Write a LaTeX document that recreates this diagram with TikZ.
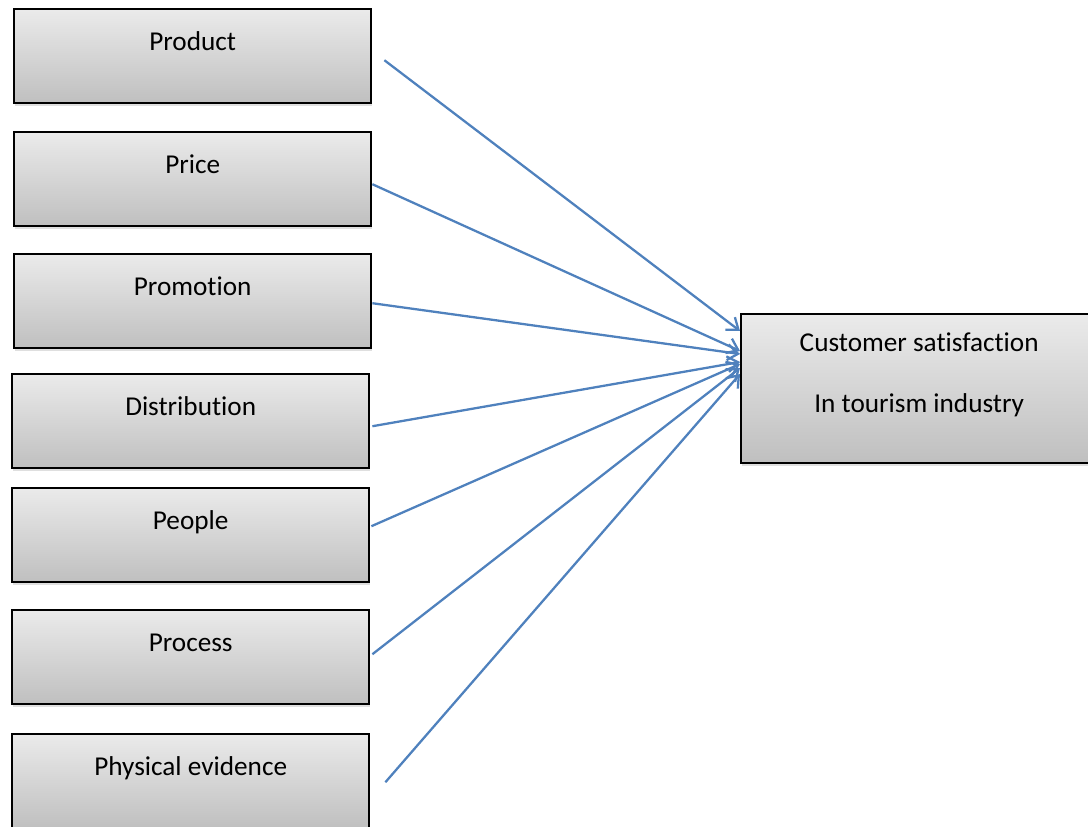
\documentclass[tikz,border=0pt]{standalone}
\usepackage{fontspec}
\setmainfont{Carlito}[Ligatures=NoCommon]
\usetikzlibrary{arrows.meta,shadows}

\definecolor{linkblue}{RGB}{79,129,189}

\begin{document}
\begin{tikzpicture}[x=0.02cm, y=-0.02cm,
            box/.style={draw, line width=1.4pt, top color=gray!16, bottom color=gray!50, anchor=north west,
                minimum width=7.14cm, inner sep=0pt, text height=0.82cm, text depth=1.06cm,
                font=\fontsize{15.5}{19}\selectfont,
                drop shadow={opacity=0.25, shadow xshift=0.6pt, shadow yshift=-1.5pt}},
            arr/.style={-{Straight Barb[length=6pt, width=9pt]}, linkblue, line width=1.3pt}
        ]
            \useasboundingbox (0,0) rectangle (1088,827);

            \node[box] (product) at (13,8) {Product};
            \node[box] (price) at (13,131) {Price};
            \node[box] (promotion) at (13,253) {Promotion};
            \node[box] (distribution) at (11,373) {Distribution};
            \node[box] (people) at (11,487) {People};
            \node[box] (process) at (11,609) {Process};
            \node[box] (evidence) at (11,733) {Physical evidence};
            \node[box, minimum width=7.12cm, text height=0.74cm, text depth=2.24cm] (satisfaction) at (740,313)
                {\begin{tabular}[t]{@{}c@{}}Customer satisfaction\\[0.55cm]In tourism industry\end{tabular}};

            \draw[arr] ([shift={(12,4)}]product.east) -- ([shift={(0,18)}]satisfaction.north west);
            \draw[arr] ([shift={(0,5)}]price.east) -- ([shift={(0,38)}]satisfaction.north west);
            \draw[arr] ([shift={(0,2)}]promotion.east) -- ([shift={(0,41)}]satisfaction.north west);
            \draw[arr] ([shift={(2,5)}]distribution.east) -- ([shift={(0,49)}]satisfaction.north west);
            \draw[arr] ([shift={(1,-9)}]people.east) -- ([shift={(0,51)}]satisfaction.north west);
            \draw[arr] ([shift={(2,-3)}]process.east) -- ([shift={(0,55)}]satisfaction.north west);
            \draw[arr] ([shift={(15,1)}]evidence.east) -- ([shift={(0,61)}]satisfaction.north west);
        \end{tikzpicture}
\end{document}
